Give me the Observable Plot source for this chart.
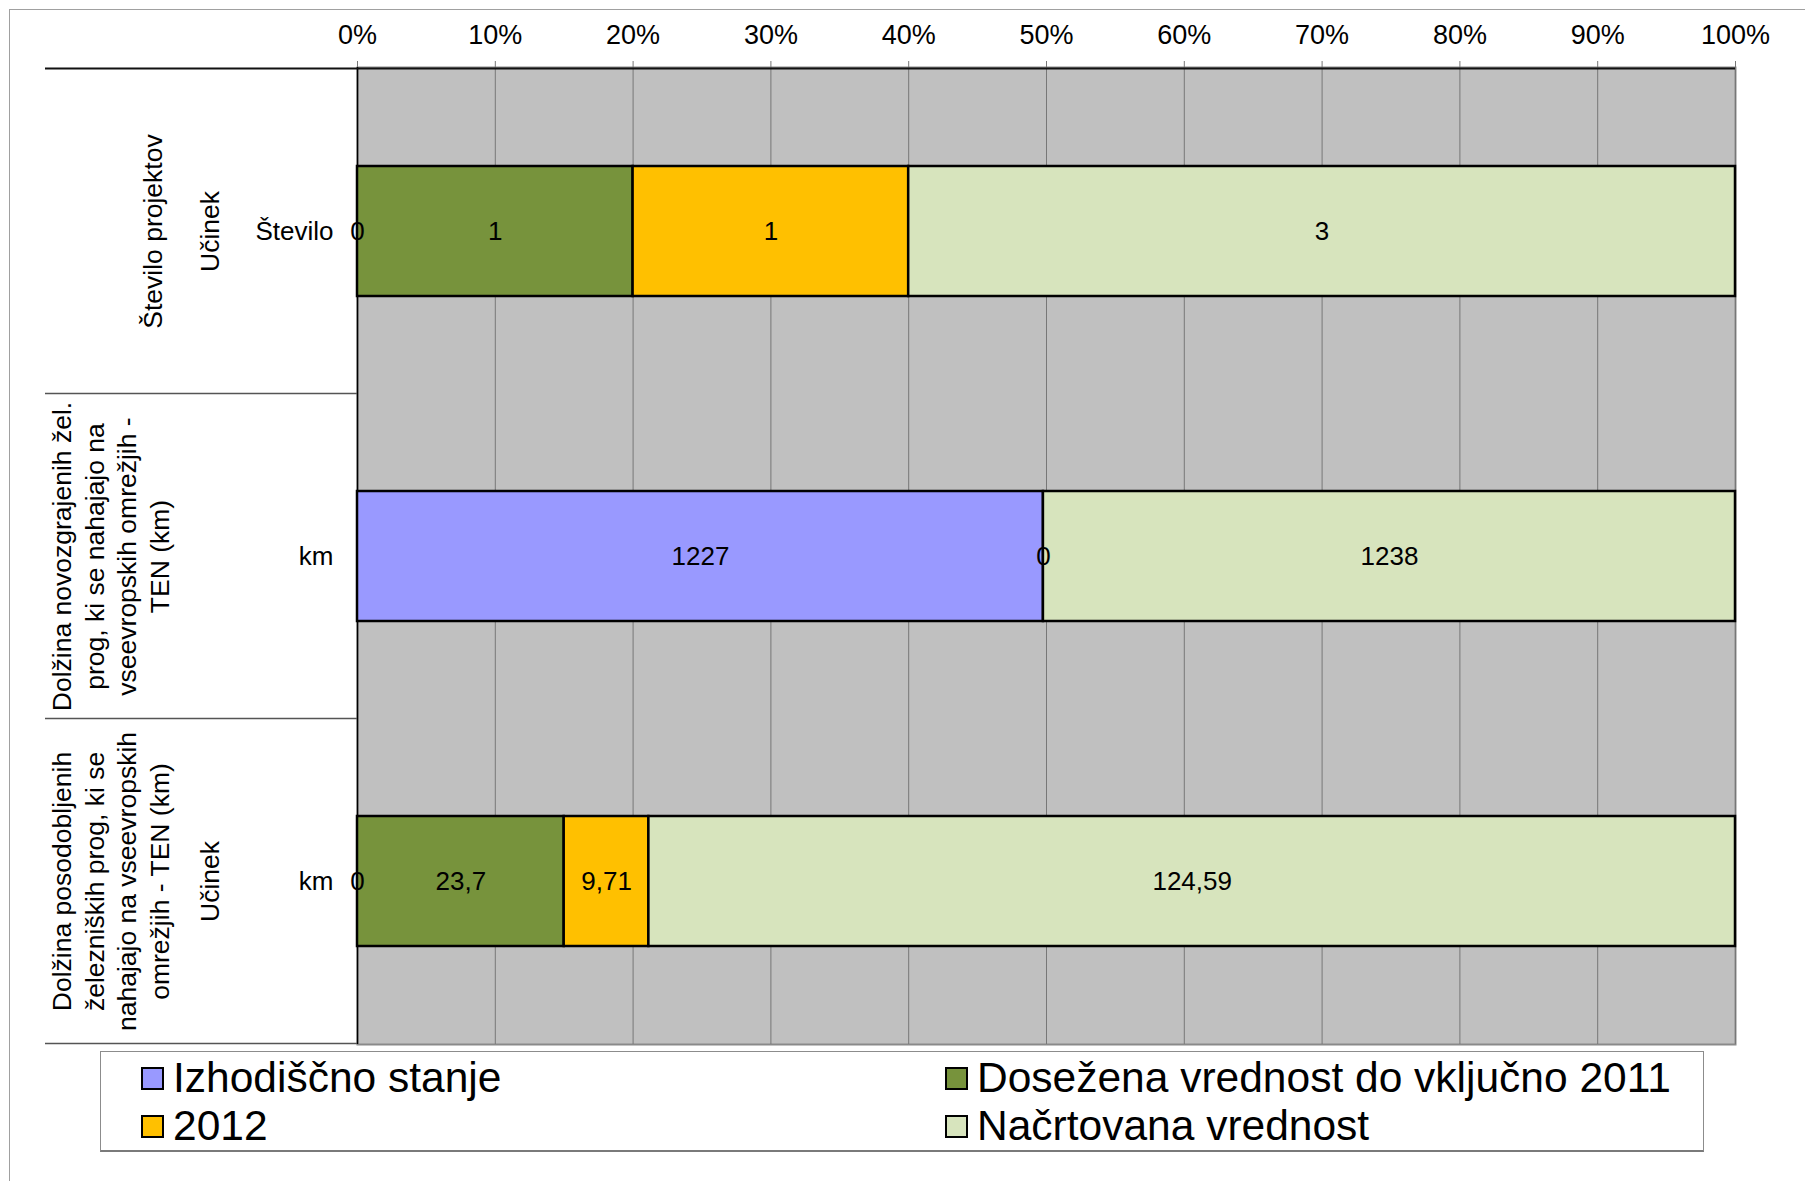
<!DOCTYPE html>
<html><head><meta charset="utf-8">
<script src="https://cdn.jsdelivr.net/npm/d3@7"></script>
<script src="https://cdn.jsdelivr.net/npm/@observablehq/plot@0.6"></script>
<style>
body{margin:0;background:#fff;font-family:"Liberation Sans",Arial,sans-serif;}
#page{position:relative;width:1805px;height:1181px;overflow:hidden;}
#frame{position:absolute;left:9px;top:9px;right:0;bottom:0;border-left:1.5px solid #a0a0a0;border-top:1.5px solid #a0a0a0;}
#chart{position:absolute;left:0;top:0;}
#legend{position:absolute;left:100px;top:1051px;width:1604px;height:101px;border:1px solid #8c8c8c;border-bottom:2px solid #7a7a7a;box-sizing:border-box;background:#fff;}
.item{position:absolute;display:flex;align-items:center;height:40px;font-size:42.5px;line-height:1;color:#000;white-space:nowrap;}
.sw{width:19px;height:19px;border:2px solid #000;margin-right:9px;flex:none;}
</style></head><body>
<div id="page"><div id="frame"></div><div id="chart"></div><div id="legend"></div></div>
<script>
// ---- data ----
const rowKeys = ["r1", "r2", "r3"];
const outerLabels = [
  "Število projektov",
  "Dolžina novozgrajenih žel.\nprog, ki se nahajajo na\nvseevropskih omrežjih -\nTEN (km)",
  "Dolžina posodobljenih\nželezniških prog, ki se\nnahajajo na vseevropskih\nomrežjih - TEN (km)"
];
const middleLabels = ["Učinek", "", "Učinek"];
const unitLabels = ["Število", "km", "km"];
const seriesNames = ["Izhodiščno stanje", "Dosežena vrednost do vključno 2011", "2012", "Načrtovana vrednost"];
const seriesColors = ["#9999FF", "#77933C", "#FFC000", "#D7E4BD"];
const izhodiscno = [0, 1227, 0];
const dosezena = [1, 0, 23.7];
const leto2012 = [1, null, 9.71];
const nacrtovana = [3, 1238, 124.59];
const tickValues = [0, 0.1, 0.2, 0.3, 0.4, 0.5, 0.6, 0.7, 0.8, 0.9, 1];
const tickLabels = ["0%", "10%", "20%", "30%", "40%", "50%", "60%", "70%", "80%", "90%", "100%"];

// ---- tidy table ----
const seriesValues = [izhodiscno, dosezena, leto2012, nacrtovana];
const data = [];
rowKeys.forEach((row, ri) => {
  seriesNames.forEach((s, si) => {
    const v = seriesValues[si][ri];
    if (v !== null && v !== undefined) data.push({row, series: s, value: v});
  });
});
const rows = rowKeys.map((key, i) => ({key, outer: outerLabels[i], middle: middleLabels[i], unit: unitLabels[i]}));
const fmt = v => String(v).replace(".", ",");
const FONT = '"Liberation Sans", Arial, sans-serif';

const chart = Plot.plot({
  width: 1805, height: 1046,
  marginLeft: 357, marginRight: 70, marginTop: 67, marginBottom: 2,
  style: {fontFamily: FONT, fontSize: "26px", background: "transparent", color: "#000", overflow: "visible"},
  x: {domain: [0, 1], axis: null, label: null},
  y: {type: "band", domain: rowKeys, paddingInner: 0.6, paddingOuter: 0.3, axis: null, label: null},
  color: {domain: seriesNames, range: seriesColors},
  marks: [
    Plot.frame({fill: "#C0C0C0", stroke: "#8a8a8a", strokeWidth: 2}),
    Plot.gridX(tickValues, {stroke: "#777", strokeOpacity: 1, strokeWidth: 1}),
    Plot.axisX(tickValues, {anchor: "top", label: null, tickFormat: d => tickLabels[tickValues.indexOf(d)], tickSize: 7, tickPadding: 17, fontSize: 27, stroke: "#777", fill: "#000"}),
    Plot.ruleX([0], {stroke: "#000", strokeWidth: 1.5}),
    Plot.barX(data, Plot.stackX({offset: "normalize", x: "value", y: "row", fill: "series", stroke: "#000", strokeWidth: 2.5})),
    Plot.text(data, Plot.stackX({offset: "normalize", x: "value", y: "row", text: d => fmt(d.value), fill: "#000", fontSize: 26})),
    Plot.axisY({label: null, tickSize: 0, tickPadding: 24, tickFormat: d => unitLabels[rowKeys.indexOf(d)], fontSize: 26, fill: "#000"}),
    Plot.text(rows.filter(r => r.key === "r1"), {y: "key", text: "outer", frameAnchor: "left", textAnchor: "middle", lineAnchor: "middle", dx: -204, rotate: -90, fontSize: 26.5, fill: "#000"}),
    Plot.text(rows.filter(r => r.key !== "r1"), {y: "key", text: "outer", frameAnchor: "left", textAnchor: "middle", lineAnchor: "middle", dx: -248, rotate: -90, fontSize: 26.5, lineHeight: 1.24, fill: "#000"}),
    Plot.text(rows.filter(r => r.middle), {y: "key", text: "middle", frameAnchor: "left", textAnchor: "middle", lineAnchor: "middle", dx: -147, rotate: -90, fontSize: 26.5, fill: "#000"})
  ]
});

// row separator lines in the label area, from the band scale
const ys = chart.scale("y");
const svg = d3.select(chart);
const g = svg.append("g");
const bounds = rowKeys.map(k => ys.apply(k) + ys.bandwidth / 2 - ys.step / 2);
bounds.push(ys.apply(rowKeys[rowKeys.length - 1]) + ys.bandwidth / 2 + ys.step / 2);
bounds.forEach((b, i) => {
  g.append("line").attr("x1", 45).attr("x2", i === 0 ? 1735 : 357)
    .attr("y1", b).attr("y2", b)
    .attr("stroke", i === 0 ? "#111" : "#555").attr("stroke-width", i === 0 ? 2 : 1.5);
});
document.getElementById("chart").appendChild(chart);

// legend
const legend = document.getElementById("legend");
const pos = [[40, 6], [844, 6], [40, 54], [844, 54]];
[0, 1, 2, 3].forEach((si, i) => {
  const it = document.createElement("div");
  it.className = "item";
  it.style.left = pos[i][0] + "px";
  it.style.top = pos[i][1] + "px";
  const sw = document.createElement("span");
  sw.className = "sw";
  sw.style.background = seriesColors[si];
  it.appendChild(sw);
  it.appendChild(document.createTextNode(seriesNames[si]));
  legend.appendChild(it);
});
</script>
</body></html>
